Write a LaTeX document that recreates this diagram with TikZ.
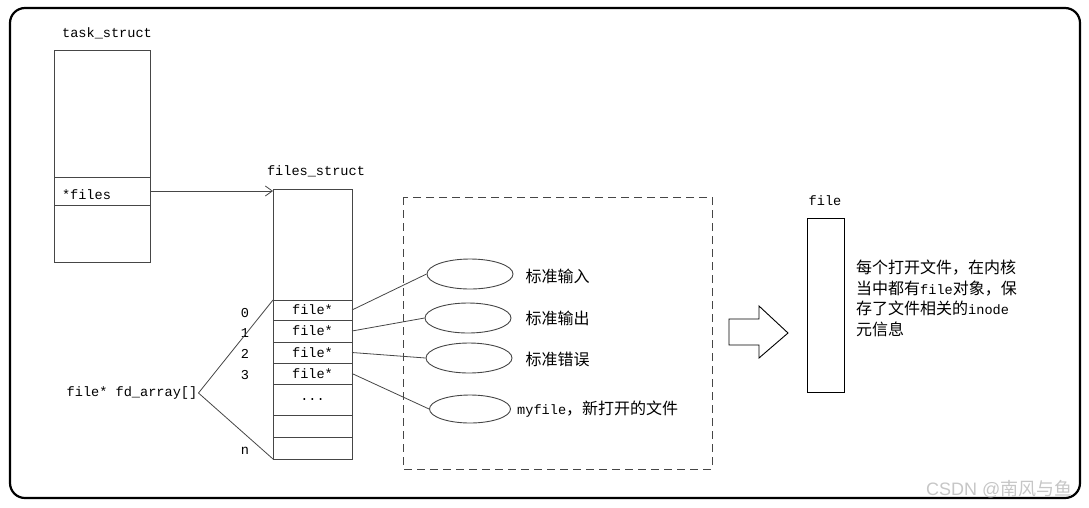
\documentclass[tikz,border=0pt]{standalone}
\usepackage{fontspec}
\setmonofont{Liberation Mono}
\setsansfont{Liberation Sans}
\newfontfamily\cjk{Noto Sans CJK SC}
\usepackage{tikz}
\usetikzlibrary{arrows.meta,positioning,shapes.geometric}
\definecolor{edge}{RGB}{70,70,70}

\begin{document}
\begin{tikzpicture}[
  x=1pt, y=-1pt,
  font=\ttfamily\fontsize{13.6}{16}\selectfont,
  cell/.style={draw=edge, line width=0.9pt, inner sep=0pt, outer sep=0pt, minimum width=#1},
  cell/.default=79pt,
  hole/.style={draw=edge, line width=0.9pt, ellipse, inner sep=0pt, minimum width=86pt, minimum height=30pt},
  link/.style={draw=edge, line width=0.8pt},
  cn/.style={font=\cjk\fontsize{16}{20}\selectfont}
]
\useasboundingbox (0,0) rectangle (1089,507);
\draw[line width=2.2pt, rounded corners=15pt] (10,8) rectangle (1080,498);

% task_struct
\node (tslabel) at (107,33) {task\_struct};
\node[cell=96pt, minimum height=127pt] (tstop) at (102,113.5) {};
\node[cell=96pt, minimum height=28pt, text width=80pt, align=left] (tsfiles) at (102,191) {\raisebox{-8pt}[0pt][0pt]{*files}};
\node[cell=96pt, minimum height=57pt] (tsbot) at (102,233.5) {};

% files_struct
\node (fslabel) at (316,171) {files\_struct};
\node[cell, minimum height=111pt] (fstop) at (312.5,244.5) {};
\node[cell, minimum height=20pt] (r0) at (312.5,310) {file*};
\node[cell, minimum height=22pt] (r1) at (312.5,331) {file*};
\node[cell, minimum height=21pt] (r2) at (312.5,352.5) {file*};
\node[cell, minimum height=21pt] (r3) at (312.5,373.5) {file*};
\node[cell, minimum height=31pt] (rdots) at (312.5,399.5) {...};
\node[cell, minimum height=22pt] (rgap) at (312.5,426) {};
\node[cell, minimum height=22pt] (rn) at (312.5,448) {};

\draw[link, -{Straight Barb[length=7pt, width=10pt]}] (tsfiles.east) -- (tsfiles.east -| fstop.west);

% indices
\node (i0) at (245,313) {0};
\node (i1) at (245,333) {1};
\node (i2) at (245,354) {2};
\node (i3) at (245,375) {3};
\node (in) at (245,451) {n};

\node[inner sep=1pt] (fdarray) at (132,393) {file* fd\_array[]};
\draw[link] (fdarray.east) -- (r0.north west);
\draw[link] (fdarray.east) -- (rn.south west);

% open files
\draw[edge, line width=0.9pt, dash pattern=on 8pt off 5pt] (403,197) rectangle (712,469);
\node[hole] (stdin) at (470,274) {};
\node[hole] (stdout) at (468,318) {};
\node[hole] (stderr) at (469,358) {};
\node[hole, minimum width=81pt, minimum height=28pt] (myfile) at (470,409) {};
\node[cn, anchor=west] (stdinlabel) at (522,276) {标准输入};
\node[cn, anchor=west] (stdoutlabel) at (522,318) {标准输出};
\node[cn, anchor=west] (stderrlabel) at (522,359) {标准错误};
\node[anchor=west, inner sep=0pt] (myfilelabel) at (517,409) {myfile{\cjk\fontsize{16}{20}\selectfont ，新打开的文件}};

\draw[link] (r0.east) -- (stdin.west);
\draw[link] (r1.east) -- (stdout.west);
\draw[link] (r2.east) -- (stderr.west);
\draw[link] (r3.east) -- (myfile.west);

% block arrow
\draw[line width=0.9pt] (729,319) -- (759,319) -- (759,306) -- (788,333) -- (759,358) -- (759,345) -- (729,345) -- cycle;

% file
\node (filelabel) at (825,201) {file};
\node[draw, line width=1pt, inner sep=0pt, minimum width=37pt, minimum height=174pt] (filebox) at (825.5,305) {};
\node[anchor=north west, align=left, inner sep=0pt, font=\ttfamily\fontsize{13.6}{20.5}\selectfont] (filenote) at (856,260)
  {{\cjk\fontsize{16}{20}\selectfont 每个打开文件，在内核}\\
   {\cjk\fontsize{16}{20}\selectfont 当中都有}file{\cjk\fontsize{16}{20}\selectfont 对象，保}\\
   {\cjk\fontsize{16}{20}\selectfont 存了文件相关的}inode\\
   {\cjk\fontsize{16}{20}\selectfont 元信息}};

\node[anchor=west, inner sep=0pt, text=gray!45, font=\sffamily\fontsize{18}{20}\selectfont] (mark) at (926,489) {CSDN @{\cjk 南风与鱼}};
\end{tikzpicture}
\end{document}
